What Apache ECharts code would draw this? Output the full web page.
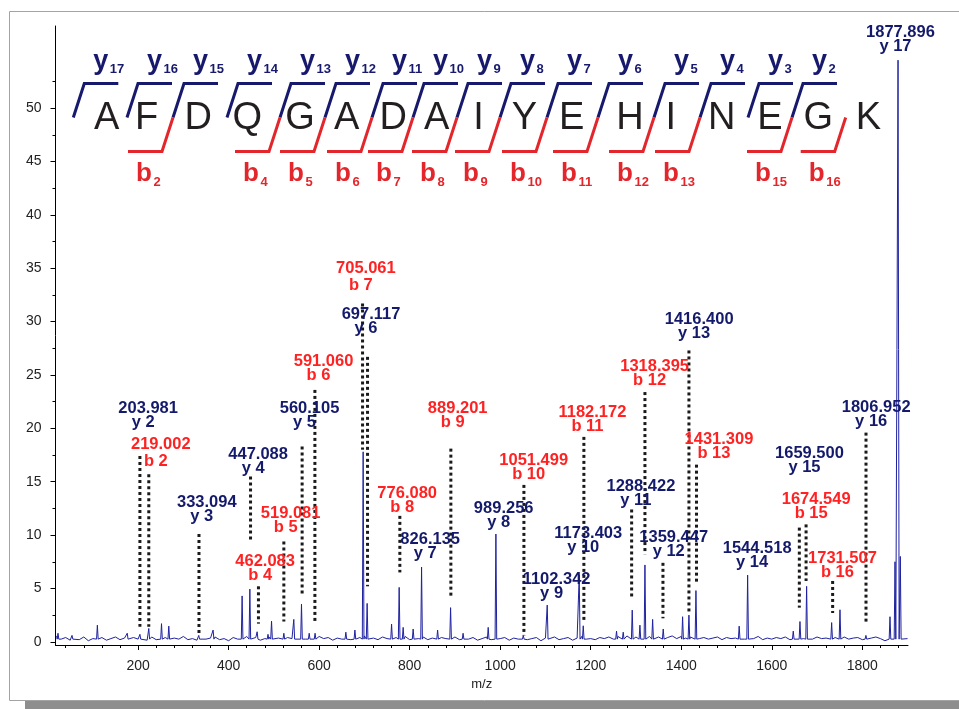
<!DOCTYPE html>
<html><head><meta charset="utf-8">
<script src="https://cdn.jsdelivr.net/npm/echarts@6.0.0/dist/echarts.min.js"></script>
<style>html,body{margin:0;padding:0;background:#fff}#c{width:959px;height:709px}</style>
</head><body><div id="c"></div>
<script>
// ---------------- data ----------------
const xTickValues = [200,400,600,800,1000,1200,1400,1600,1800];
const xMinorValues = [40,80,120,160,240,280,320,360,440,480,520,560,640,680,720,760,840,880,920,960,1040,1080,1120,1160,1240,1280,1320,1360,1440,1480,1520,1560,1640,1680,1720,1760,1840,1880];
const yTickValues = [0,5,10,15,20,25,30,35,40,45,50];
const yMinorValues = [2.5,7.5,12.5,17.5,22.5,27.5,32.5,37.5,42.5,47.5,52.5];

// baseline noise, m/z 20..1900 every 10
const noiseStart = 20, noiseStep = 10;
const noise = [
0.55,0.25,0.4,0.15,0.35,0.2,0.45,0.1,0.3,0.25,
0.4,0.15,0.3,0.45,0.2,0.35,0.1,0.4,0.25,0.3,
0.15,0.45,0.2,0.3,0.4,0.1,0.35,0.25,0.5,0.2,
0.3,0.15,0.4,0.25,0.35,0.45,0.2,0.3,0.1,0.4,
0.25,0.35,0.5,0.2,0.4,0.15,0.3,0.45,0.25,0.35,
0.2,0.4,0.3,0.15,0.45,0.25,0.35,0.2,0.5,0.3,
0.4,0.15,0.35,0.25,0.45,0.2,0.3,0.4,0.55,0.25,
0.35,0.2,0.45,0.3,0.15,0.4,0.25,0.5,0.2,0.35,
0.3,0.45,0.2,0.35,0.15,0.4,0.3,0.25,0.45,0.2,
0.35,0.25,0.4,0.15,0.3,0.45,0.2,0.35,0.3,0.4,
0.15,0.35,0.25,0.45,0.2,0.3,0.4,0.1,0.35,0.25,
0.45,0.2,0.3,0.4,0.15,0.35,0.5,0.25,0.3,0.2,
0.4,0.3,0.45,0.25,0.5,0.35,0.55,0.3,0.45,0.6,
0.35,0.5,0.3,0.45,0.25,0.4,0.55,0.3,0.5,0.35,
0.45,0.6,0.3,0.4,0.25,0.35,0.45,0.2,0.4,0.3,
0.35,0.45,0.25,0.4,0.3,0.5,0.2,0.35,0.25,0.4,
0.3,0.45,0.2,0.35,0.5,0.3,0.4,0.25,0.45,0.3,
0.35,0.2,0.4,0.3,0.45,0.25,0.35,0.4,0.2,0.5,
0.35,0.45,0.3,0.1,-0.05,0.0,0.3,0.4,0.3
];

// spectrum peaks [m/z, relative intensity]
const peaks = [
[23,0.8],[54,0.6],[110,1.56],[176,0.8],[204,0.7],[223.6,1.25],[251.7,1.7],[267.8,1.47],[334,0.6],[365.7,1.1],
[429.8,4.3],[446.9,4.94],[463,0.94],[487,0.7],[494.8,1.94],[522,0.8],[544,2.1],[561,3.53],[578,0.8],[591,0.8],
[659,0.9],[679,1.1],[697.2,17.8],[706,3.6],[760,1.66],[776.8,5.1],[785.6,1.35],[807.7,1.2],[826.3,7.0],[861.7,1.1],
[890.4,3.2],[918,0.8],[973.5,1.35],[990.5,10.1],[1051,0.6],[1103.9,3.44],[1174.6,6.25],[1183.5,1.5],[1257,1.0],[1271.8,0.9],
[1291.7,2.97],[1308.7,1.56],[1319.8,7.2],[1336.8,2.1],[1360.2,1.2],[1403,2.35],[1417,2.5],[1432.5,4.8],[1528,1.47],[1546.7,6.25],
[1647.5,1.0],[1662.3,1.9],[1677,5.2],[1732.3,1.8],[1750.7,3.0],[1808,0.6],[1861.2,2.35],[1872.3,7.5],[1879,54.5],[1884,8]
];

// annotated fragment ions
const ionMass = ['203.981','219.002','333.094','447.088','462.083','519.081','560.105','591.060','705.061','697.117','776.080','826.135','889.201','989.256','1051.499','1102.342','1173.403','1182.172','1288.422','1318.395','1359.447','1416.400','1431.309','1544.518','1659.500','1674.549','1731.507','1806.952','1877.896'];
const ionName = ['y 2','b 2','y 3','y 4','b 4','b 5','y 5','b 6','b 7','y 6','b 8','y 7','b 9','y 8','b 10','y 9','y 10','b 11','y 11','b 12','y 12','y 13','b 13','y 14','y 15','b 15','b 16','y 16','y 17'];
// label anchor in data coordinates [m/z, intensity]
const ionLabelAt = [[222.1,21.83],[250.2,18.51],[351.8,13.02],[465.2,17.53],[480.7,7.55],[537.0,11.99],[578.8,21.83],[609.7,26.25],[703.2,34.95],[714.7,30.67],[794.5,13.94],[845.3,9.58],[906.1,21.83],[1007.7,12.53],[1074.0,17.0],[1124.6,5.83],[1194.5,10.19],[1203.8,21.53],[1310.9,14.57],[1341.2,25.82],[1383.4,9.81],[1439.6,30.18],[1483.3,18.94],[1567.7,8.72],[1683.3,17.69],[1698.1,13.31],[1756.2,7.85],[1830.7,22.0],[1884.4,57.1]];
// dotted leader lines [m/z, top intensity, bottom intensity]
const leaders = [[204.0,17.4,1.4],[223.6,15.7,1.4],[334.5,10.1,0.7],[448.4,15.5,9.3],[465.9,5.2,1.7],[522,9.4,1.9],[562.4,18.3,4.4],[590.6,23.6,1.9],[695.9,31.7,18.0],[706.9,26.7,5.2],[778.3,11.8,6.5],[891,18.1,4.3],[1052.4,14.7,0.6],[1184.9,19.2,2.0],[1290.4,12.4,4.2],[1319.8,23.4,8.2],[1359.6,7.4,2.2],[1417,27.3,2.7],[1433.7,16.6,5.6],[1660.9,10.7,3.2],[1675.8,11.0,5.7],[1734.5,5.7,2.7],[1808.2,19.6,1.8]];

// peptide sequence and observed ions
const sequence = ['A','F','D','Q','G','A','D','A','I','Y','E','H','I','N','E','G','K'];
const yIonsSeen = [17,16,15,14,13,12,11,10,9,8,7,6,5,4,3,2];
const bIonsSeen = [2,4,5,6,7,8,9,10,11,12,13,15,16];

// ---------------- layout (pixels) ----------------
const letterX = [106.7,146.7,198.3,247.3,300,346.7,393.3,436.7,478.5,524.3,571.7,630,670.7,721.7,770,818.3,868.3];
const gapX = [73.3,127,173,227,280,325,372,413,457,500,547,598,654,700,748,792,845.7];
const NAVY = '#17196d', RED = '#e3262b', RED_TXT = '#ff2222', NAVY_TXT = '#141a6b';
const FONT = '"Liberation Sans", Arial, sans-serif';
const labelRowGap = {1:17.5, 8:17}; // index -> gap between label rows, default 14

// ---------------- build spectrum ----------------
const pts = [];
noise.forEach((v,i)=>{
  const m = noiseStart + i*noiseStep;
  if (!peaks.some(p=>Math.abs(p[0]-m) < 2.6)) pts.push([m, v]);
});
peaks.forEach(p=>{
  const w = p[1] > 20 ? 2.4 : 1.8;
  pts.push([p[0]-w, 0.25]); pts.push([p[0], p[1]]); pts.push([p[0]+w, 0.25]);
});
pts.sort((a,b)=>a[0]-b[0]);

// ---------------- graphics for sequence ----------------
const g = [];
g.push({type:'rect', shape:{x:9.5,y:11.5,width:1000,height:689}, style:{fill:null, stroke:'#a3a3a3', lineWidth:1}, silent:true, z:-1});
g.push({type:'rect', shape:{x:25,y:701,width:940,height:8}, style:{fill:'#8e8e8e'}, silent:true});
function txt(x,y,text,font,fill,align){
  return {type:'text', x:x, y:y, silent:true, style:{text:text, font:font, fill:fill, align:align, textAlign:align, verticalAlign:'middle', textVerticalAlign:'middle'}};
}
sequence.forEach((s,i)=>{ g.push(txt(letterX[i],118.5,s,'38px '+FONT,'#231f20','center')); });
yIonsSeen.forEach(n=>{
  const gi = sequence.length - n; const x = gapX[gi];
  g.push({type:'polyline', silent:true, shape:{points:[[x,117.5],[x+11,83.5],[x+45,83.5]]}, style:{stroke:NAVY, lineWidth:3, fill:null}});
  g.push(txt(x+20,61.4,'y','bold 27px '+FONT,NAVY,'left'));
  g.push(txt(x+36.5,69.8,String(n),'bold 13px '+FONT,NAVY,'left'));
});
bIonsSeen.forEach(n=>{
  const x = gapX[n];
  g.push({type:'polyline', silent:true, shape:{points:[[x,117.5],[x-11,151.5],[x-45,151.5]]}, style:{stroke:RED, lineWidth:3, fill:null}});
  g.push(txt(x-37,174.2,'b','bold 26px '+FONT,RED,'left'));
  g.push(txt(x-19.5,182.8,String(n),'bold 13px '+FONT,RED,'left'));
});

// ---------------- chart ----------------
const chart = echarts.init(document.getElementById('c'), null, {renderer:'canvas'});
const axisCommon = {type:'value', min:17.5, max:1901, splitLine:{show:false}};
chart.setOption({
  backgroundColor:'#fff',
  animation:false,
  grid:{left:55.5, right:51, top:26, bottom:64, containLabel:false, outerBoundsMode:'none'},
  xAxis:[
    Object.assign({}, axisCommon, {
      position:'bottom',
      axisLine:{onZero:false, lineStyle:{color:'#000', width:1}},
      axisTick:{customValues:xTickValues, length:5, lineStyle:{color:'#000'}},
      axisLabel:{customValues:xTickValues, fontSize:14, color:'#222', margin:14, fontFamily:FONT, formatter:v=>String(v)},
      name:'m/z', nameLocation:'middle', nameGap:30, nameTextStyle:{fontSize:13, color:'#222', fontFamily:FONT}
    }),
    Object.assign({}, axisCommon, {
      position:'bottom', offset:0,
      axisLine:{show:false, onZero:false},
      axisTick:{customValues:xMinorValues, length:3, lineStyle:{color:'#000'}},
      axisLabel:{show:false}
    })
  ],
  yAxis:[
    {type:'value', min:-0.3, max:57.7, position:'left', splitLine:{show:false},
     axisLine:{show:true, onZero:false, lineStyle:{color:'#000', width:1}},
     axisTick:{show:true, customValues:yTickValues, length:5, lineStyle:{color:'#000'}},
     axisLabel:{customValues:yTickValues, fontSize:14, color:'#222', margin:14, fontFamily:FONT, formatter:v=>String(v)}},
    {type:'value', min:-0.3, max:57.7, position:'left', offset:0, splitLine:{show:false},
     axisLine:{show:false, onZero:false},
     axisTick:{show:true, customValues:yMinorValues, length:3, lineStyle:{color:'#000'}},
     axisLabel:{show:false}}
  ],
  series:[
    {type:'custom', name:'leaders', xAxisIndex:0, yAxisIndex:0, silent:true, clip:false, z:1,
     data:leaders, encode:{x:0, y:[1,2]},
     renderItem:function(params, api){
       const a = api.coord([api.value(0), api.value(1)]);
       const b = api.coord([api.value(0), api.value(2)]);
       return {type:'line', shape:{x1:a[0], y1:a[1], x2:b[0], y2:b[1]}, style:{stroke:'#1a1a1a', lineWidth:3, lineDash:[3,3]}};
     }},
    {type:'line', name:'spectrum', xAxisIndex:0, yAxisIndex:0, data:pts, showSymbol:false, symbol:'none', silent:true,
     lineStyle:{color:'#1f22a0', width:1}, sampling:null, z:2},
    {type:'custom', name:'labels', xAxisIndex:0, yAxisIndex:0, silent:true, clip:false, z:3,
     data:ionLabelAt, encode:{x:0, y:1},
     renderItem:function(params, api){
       const i = params.dataIndex;
       const p = api.coord([api.value(0), api.value(1)]);
       const col = ionName[i][0] === 'b' ? RED_TXT : NAVY_TXT;
       const f = 'bold 16.5px ' + FONT;
       const rg = labelRowGap[i] || 14;
       return {type:'group', children:[
         {type:'text', x:p[0], y:p[1], style:{text:ionMass[i], font:f, fill:col, align:'center', textAlign:'center', verticalAlign:'middle', textVerticalAlign:'middle'}},
         {type:'text', x:p[0]-5, y:p[1]+rg, style:{text:ionName[i], font:f, fill:col, align:'center', textAlign:'center', verticalAlign:'middle', textVerticalAlign:'middle'}}
       ]};
     }}
  ],
  graphic:{elements:g}
});
</script>
</body></html>
